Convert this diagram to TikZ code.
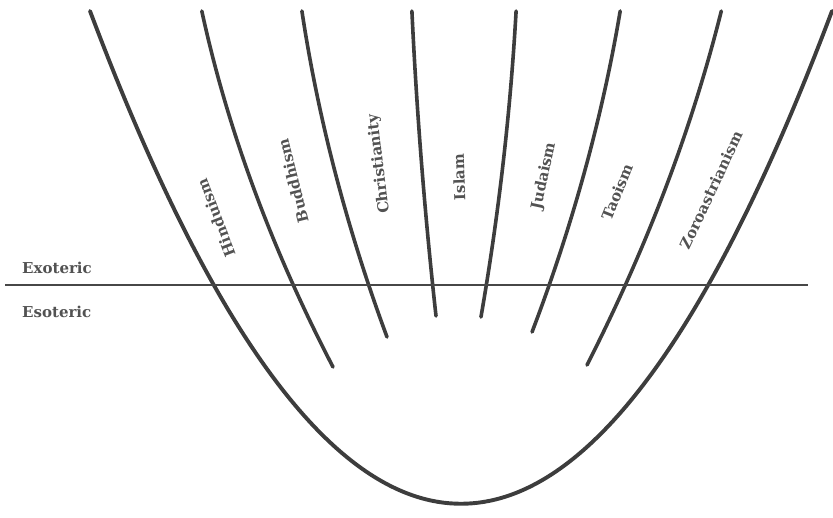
\documentclass[tikz,border=0pt]{standalone}
\usepackage{fontspec}
\setmainfont{DejaVu Serif}
\begin{document}
\begin{tikzpicture}[x=1pt,y=-1pt,
  curve/.style={draw=black!76, line width=3.6pt, line cap=round},
  divider/.style={draw=black!72, line width=2.9pt},
  lbl/.style={font=\bfseries\fontsize{15}{18}\selectfont, text=black!68, inner sep=0pt},
  side/.style={lbl, anchor=base west}]
\useasboundingbox (0,0) rectangle (833,517);
% end points
\coordinate (pL) at (90,11);
\coordinate (pR) at (832,11);
\coordinate (bT) at (201.8,11);  \coordinate (bB) at (333.0,367);
\coordinate (cT) at (301.9,11);  \coordinate (cB) at (387.0,337);
\coordinate (iT) at (411.9,11);  \coordinate (iB) at (436.0,316);
\coordinate (jT) at (516.1,11);  \coordinate (jB) at (480.97,317);
\coordinate (tT) at (620.2,11);  \coordinate (tB) at (532.05,332);
\coordinate (zT) at (721.3,11);  \coordinate (zB) at (587.0,365);
\coordinate (hL) at (5,285);
\coordinate (hR) at (808,285);
% outer parabola
\draw[curve, line width=3.9pt] (pL) .. controls (337.33,668) and (584.67,668) .. (pR);
% religion lines
\draw[curve] (bT) .. controls (227.41,129) and (271.22,248) .. (bB);
\draw[curve] (cT) .. controls (318.27,119) and (346.70,228) .. (cB);
\draw[curve] (iT) .. controls (416.69,112) and (424.72,214) .. (iB);
\draw[curve] (jT) .. controls (510.43,112.33) and (498.71,214.67) .. (jB);
\draw[curve] (tT) .. controls (602.28,117.33) and (572.85,224.67) .. (tB);
\draw[curve] (zT) .. controls (692.00,128.33) and (647.17,246.67) .. (zB);
% divider
\draw[divider] (hL) -- (hR);
% labels
\node[side] (exo) at (22,273) {Exoteric};
\node[side] (eso) at (22,317) {Esoteric};
\node[lbl, rotate=111] (hin) at (216,218) {Hinduism};
\node[lbl, rotate=104] (bud) at (293,181) {Buddhism};
\node[lbl, rotate=97] (chr) at (379,164) {Christianity};
\node[lbl, rotate=92] (isl) at (459,177) {Islam};
\node[lbl, rotate=78] (jud) at (544,176) {Judaism};
\node[lbl, rotate=68] (tao) at (617,192) {Taoism};
\node[lbl, rotate=65] (zor) at (711,190) {Zoroastrianism};
\end{tikzpicture}
\end{document}
